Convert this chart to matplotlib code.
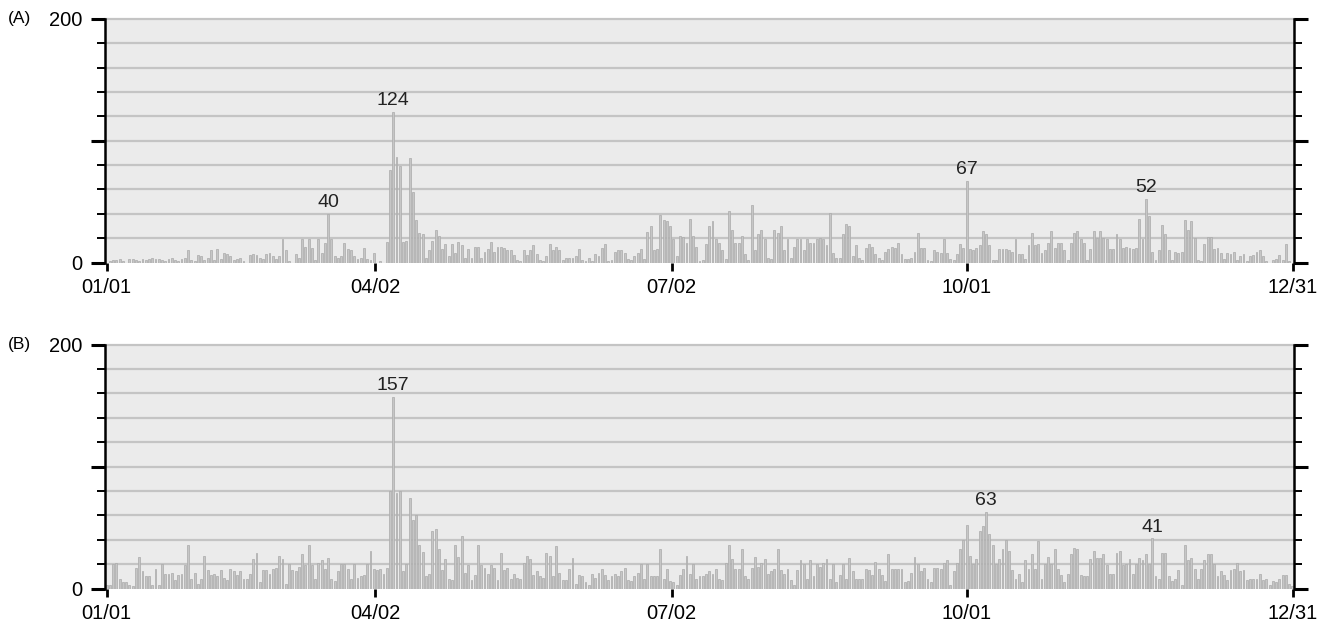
import matplotlib
matplotlib.use("Agg")
import matplotlib.pyplot as plt
import numpy as np

plt.rcParams['font.family'] = ['Liberation Sans', 'DejaVu Sans']

# ---- data (daily counts, 365 days) ----
panel_a = [
    0, 1, 2, 2, 3, 1, 0, 3, 3, 2, 1, 3, 2, 3, 4, 3, 3, 2, 1, 3, 4, 2, 1, 3, 4,
    10, 2, 1, 6, 5, 2, 4, 10, 2, 11, 3, 8, 7, 5, 2, 3, 4, 1, 0, 6, 7, 6, 4, 3, 7,
    8, 5, 3, 5, 19, 10, 1, 0, 7, 4, 19, 13, 19, 12, 2, 19, 8, 16, 40, 19, 5, 4, 5, 16, 11,
    10, 5, 3, 4, 12, 3, 2, 8, 0, 1, 0, 17, 76, 124, 87, 79, 17, 18, 86, 58, 35, 24, 23, 4, 10,
    18, 27, 22, 11, 15, 5, 15, 8, 17, 14, 4, 11, 4, 13, 13, 4, 9, 11, 17, 9, 13, 13, 12, 10, 10,
    6, 2, 1, 10, 6, 10, 14, 7, 2, 1, 5, 15, 10, 13, 10, 2, 4, 4, 4, 5, 11, 2, 1, 4, 1,
    7, 5, 12, 15, 1, 2, 9, 10, 10, 8, 3, 2, 5, 8, 11, 3, 25, 30, 10, 11, 39, 35, 34, 30, 19,
    5, 22, 21, 16, 36, 22, 13, 1, 2, 15, 30, 34, 19, 16, 10, 3, 42, 27, 16, 16, 22, 7, 2, 47, 10,
    23, 27, 19, 4, 3, 27, 24, 30, 10, 19, 4, 13, 19, 19, 10, 19, 16, 16, 19, 20, 19, 14, 41, 8, 4,
    4, 23, 32, 30, 5, 14, 4, 2, 12, 15, 13, 7, 4, 2, 9, 11, 13, 12, 16, 7, 3, 3, 4, 9, 24,
    12, 12, 2, 1, 10, 9, 8, 19, 8, 3, 2, 7, 15, 12, 67, 11, 10, 12, 14, 26, 23, 14, 2, 2, 11,
    11, 11, 10, 9, 19, 7, 7, 3, 14, 24, 14, 15, 8, 10, 16, 26, 12, 16, 16, 10, 2, 16, 24, 26, 19,
    16, 2, 11, 26, 20, 26, 20, 19, 11, 11, 23, 19, 12, 13, 12, 11, 12, 36, 19, 52, 38, 9, 2, 10, 31,
    23, 10, 2, 9, 8, 9, 35, 27, 34, 20, 2, 1, 15, 21, 21, 11, 12, 8, 3, 8, 7, 9, 2, 5, 7,
    1, 5, 6, 9, 10, 5, 1, 0, 2, 3, 6, 2, 15, 1, 0,
]

panel_b = [
    3, 3, 20, 21, 8, 5, 5, 3, 2, 17, 26, 14, 10, 10, 3, 16, 3, 20, 12, 12, 13, 7, 11, 12, 19,
    36, 8, 13, 4, 8, 27, 15, 11, 12, 10, 15, 9, 7, 16, 14, 11, 14, 8, 8, 12, 24, 29, 5, 15, 15,
    12, 16, 17, 27, 24, 4, 20, 15, 14, 18, 28, 19, 36, 19, 8, 21, 23, 16, 25, 8, 6, 14, 20, 20, 16,
    8, 20, 9, 10, 11, 20, 31, 16, 15, 16, 12, 17, 80, 157, 78, 80, 14, 20, 74, 56, 60, 36, 30, 10, 12,
    47, 49, 32, 15, 24, 8, 7, 36, 26, 43, 13, 19, 7, 11, 36, 19, 17, 12, 19, 17, 7, 29, 15, 17, 8,
    12, 9, 8, 21, 27, 24, 11, 14, 10, 9, 29, 27, 10, 35, 13, 7, 7, 16, 25, 4, 11, 10, 5, 3, 12,
    9, 13, 16, 11, 7, 10, 12, 10, 14, 17, 7, 6, 10, 13, 20, 8, 20, 10, 10, 10, 32, 8, 16, 6, 5,
    3, 11, 16, 27, 12, 20, 8, 10, 10, 12, 14, 12, 16, 8, 7, 21, 36, 24, 16, 16, 32, 10, 8, 17, 26,
    18, 21, 24, 12, 14, 16, 32, 15, 12, 16, 7, 3, 15, 23, 20, 8, 23, 10, 20, 18, 21, 24, 8, 20, 5,
    11, 20, 8, 25, 14, 8, 8, 8, 16, 15, 11, 22, 16, 11, 6, 28, 16, 16, 16, 16, 5, 6, 13, 26, 20,
    14, 17, 8, 5, 17, 17, 16, 21, 23, 3, 14, 21, 32, 40, 52, 27, 20, 24, 47, 51, 63, 45, 36, 20, 24,
    32, 40, 31, 15, 8, 12, 5, 23, 16, 28, 16, 39, 8, 20, 26, 20, 32, 16, 11, 5, 12, 28, 33, 32, 11,
    10, 10, 24, 31, 25, 25, 28, 19, 12, 12, 29, 31, 19, 20, 24, 12, 20, 25, 23, 28, 20, 41, 10, 8, 29,
    29, 10, 6, 8, 15, 3, 36, 23, 25, 16, 8, 16, 23, 28, 28, 20, 10, 14, 11, 7, 15, 16, 21, 14, 15,
    7, 8, 8, 8, 12, 7, 8, 3, 6, 5, 8, 11, 11, 4, 2,
]

tick_labels = ['01/01', '04/02', '07/02', '10/01', '12/31']
tick_days = [0, 82.5, 173.5, 264, 364.2]

labels_a = [68, 88, 264, 319]   # day indices of annotated peaks
labels_b = [88, 270, 321]

panels = [
    ('(A)', panel_a, labels_a, [105 / 1330, 1 - 262.5 / 621, 1189 / 1330, 243.5 / 621]),
    ('(B)', panel_b, labels_b, [105 / 1330, 1 - 588.5 / 621, 1189 / 1330, 244 / 621]),
]

fig = plt.figure(figsize=(13.3, 6.21), dpi=100)

for name, vals, lab_idx, rect in panels:
    ax = fig.add_axes(rect)
    ax.set_facecolor('#ebebeb')
    days = np.arange(len(vals))
    ax.bar(days, vals, width=0.58, color='#c6c6c6', edgecolor='#aaaaaa',
           linewidth=0.5, zorder=3)
    for g in range(20, 201, 20):
        ax.axhline(g, color='#c4c4c4', lw=1.6, zorder=1, clip_on=False)
    ax.set_xlim(-0.5, 364.5)
    ax.set_ylim(0, 200)
    for s in ('top', 'bottom'):
        ax.spines[s].set_visible(False)
    for s in ('left', 'right'):
        ax.spines[s].set_color('black')
        ax.spines[s].set_linewidth(1.8)
        ax.spines[s].set_zorder(5)
    ax.set_yticks([0, 100, 200])
    ax.set_yticklabels(['0', '', '200'])
    ax.set_yticks(np.arange(0, 201, 20), minor=True)
    ax.tick_params(axis='y', which='major', direction='out', length=10, width=2.2,
                   left=True, right=True, labelsize=14.5, pad=6, colors='black')
    ax.tick_params(axis='y', which='minor', direction='out', length=6, width=1.4,
                   left=True, right=True)
    ax.set_xticks(tick_days)
    ax.set_xticklabels(tick_labels)
    ax.tick_params(axis='x', direction='out', length=6, width=2, labelsize=14.5, pad=5)
    for i in lab_idx:
        ax.annotate(str(vals[i]), (days[i], vals[i]), xytext=(0, 5),
                    textcoords='offset points', ha='center', va='baseline',
                    fontsize=14, color='#222222', zorder=6)
    top_px = (1 - (rect[1] + rect[3])) * 621
    fig.text(8 / 1330, 1 - top_px / 621, name, fontsize=12.5, va='center', ha='left')

fig.savefig('out.png', dpi=100)
